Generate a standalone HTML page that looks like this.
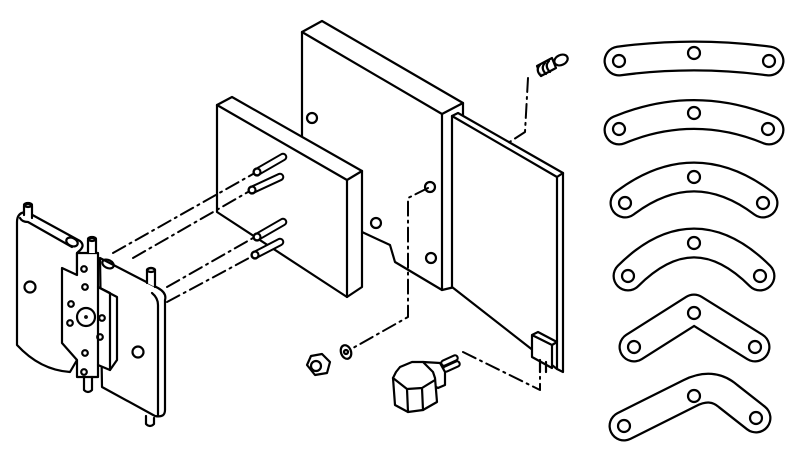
<!DOCTYPE html>
<html><head><meta charset="utf-8"><style>html,body{margin:0;padding:0;background:#fff}svg{display:block}</style></head>
<body>
<svg width="800" height="458" viewBox="0 0 800 458" xmlns="http://www.w3.org/2000/svg" fill="none" stroke="#000" stroke-width="2.2" stroke-linejoin="round" stroke-linecap="round">
<g>
<g stroke-width="31"><path d="M619,61 Q694,51 769,61"/><path d="M619,130 Q694,99 769,130"/><path d="M625,203 Q694,151 763,203"/><path d="M628,276 Q694,210 760,276"/><path d="M634,347 L694,309 L755,347"/><path d="M624,426 L690,393 Q712,382 728,396 L756,418"/></g>
<g stroke-width="26.5" stroke="#fff"><path d="M619,61 Q694,51 769,61"/><path d="M619,130 Q694,99 769,130"/><path d="M625,203 Q694,151 763,203"/><path d="M628,276 Q694,210 760,276"/><path d="M634,347 L694,309 L755,347"/><path d="M624,426 L690,393 Q712,382 728,396 L756,418"/></g>
<g><circle cx="619" cy="61" r="6"/><circle cx="694" cy="53" r="6"/><circle cx="769" cy="61" r="6"/>
<circle cx="619" cy="129" r="6"/><circle cx="694" cy="113" r="6"/><circle cx="768" cy="129" r="6"/>
<circle cx="625" cy="203" r="6"/><circle cx="694" cy="177" r="6"/><circle cx="763" cy="203" r="6"/>
<circle cx="628" cy="276" r="6"/><circle cx="694" cy="243" r="6"/><circle cx="760" cy="276" r="6"/>
<circle cx="634" cy="347" r="6"/><circle cx="694" cy="313" r="6"/><circle cx="755" cy="347" r="6"/>
<circle cx="624" cy="426" r="6"/><circle cx="694" cy="396" r="6"/><circle cx="756" cy="418" r="6"/></g>
</g>
<path d="M302,137 L302,32 L322,21 L463,103 L463,285 L442,290 L395,262 L390,245 L362,232" fill="#fff"/>
<path d="M302,32 L442,114 L463,103 M442,114 L442,290"/>
<circle cx="312" cy="118" r="5"/><circle cx="376" cy="223" r="5"/><circle cx="430" cy="187" r="5"/><circle cx="431" cy="258" r="5"/>
<path d="M452,116 L458,113 L563,173 L563,372 L557,369 L452,287 Z" fill="#fff"/>
<path d="M452,116 L557,177 L557,369 M557,177 L563,173"/>
<path d="M532,335 L538,332 L557,342 L552,345 Z M532,335 L532,357 L552,368 L552,345" fill="#fff"/>
<path d="M540,360 L540,372 M546,362 L546,372"/>
<path d="M217,105 L232,97 L362,171 L362,287 L347,297 L217,212 Z" fill="#fff"/>
<path d="M217,105 L347,180 L362,171 M347,180 L347,297"/>
<g stroke-width="8.5"><path d="M257,172 L283,157 M252,190 L280,177 M257,237 L283,222 M255,255 L280,242"/></g>
<g stroke-width="4.5" stroke="#fff"><path d="M257,172 L283,157 M252,190 L280,177 M257,237 L283,222 M255,255 L280,242"/></g>
<g><circle cx="257" cy="172" r="3.5"/><circle cx="252" cy="190" r="3.5"/><circle cx="257" cy="237" r="3.5"/><circle cx="255" cy="255" r="3.5"/></g>
<g stroke-dasharray="14,5,2,5" stroke-width="2">
<path d="M113,253 L253,174"/><path d="M133,258 L248,192"/><path d="M167,287 L253,238"/><path d="M167,302 L251,257"/>
<path d="M428,188 L408,198 L408,317 L353,348"/>
<path d="M528,78 L525,132 L508,143"/>
<path d="M463,352 L540,390 L540,362"/>
</g>
<g fill="#fff"><path d="M537,66 L552,58 L556,68 L541,76 Z"/><ellipse cx="561" cy="60" rx="7" ry="5" transform="rotate(-25 561 60)"/>
<path d="M540,65 Q535,70 541,76 M545,63 Q540,68 546,74 M549,61 Q544,66 550,72" /></g>
<ellipse cx="346" cy="352" rx="5" ry="7" transform="rotate(-20 346 352)" fill="#fff"/><circle cx="346" cy="352" r="2"/>
<path d="M307,365 L311,356 L322,354 L330,362 L327,373 L315,375 Z" fill="#fff"/><circle cx="316" cy="366" r="5"/>
<g stroke-width="7.5"><path d="M444,363 L455,358 M446,369 L457,364"/></g>
<g stroke-width="3.3" stroke="#fff"><path d="M444,363 L455,358 M446,369 L457,364"/></g>
<path d="M423,362 L440,363 L445,372 L445,385 L438,388 L430,384 Z" fill="#fff"/>
<path d="M396,372 L400,367 L412,362 L423,362 L433,372 L435,378 L437,402 L423,410 L408,412 L395,405 L393,378 Z" fill="#fff"/>
<path d="M393,378 L407,389 L422,388 L435,380 M407,389 L408,412 M422,388 L423,410"/>
<path d="M100,258 L158,288 Q167,293 165,300 L165,410 Q165,418 155,416 L102,387 Z" fill="#fff"/>
<path d="M152,293 Q158,298 158,305 L158,415"/>
<circle cx="138" cy="352" r="5.5"/><ellipse cx="108" cy="264" rx="6" ry="4" transform="rotate(25 108 264)"/>
<path d="M147,283 L147,270 Q151,266 155,270 L155,287" fill="#fff"/><ellipse cx="151" cy="270" rx="4" ry="2"/>
<path d="M146,416 L146,424 Q150,428 154,424 L154,418"/>
<path d="M17,222 Q17,212 27,212 L80,241 Q86,246 78,252 L77,253 L77,360 L70,372 Q40,370 17,345 Z" fill="#fff"/>
<path d="M20,218 Q22,222 28,222 L72,247"/>
<circle cx="30" cy="287" r="5.5"/><ellipse cx="72" cy="242" rx="6" ry="4" transform="rotate(25 72 242)"/>
<path d="M24,215 L24,206 Q28,202 32,206 L32,218" fill="#fff"/><ellipse cx="28" cy="205" rx="4" ry="2"/>
<path d="M77,253 L98,253 L98,287 L117,297 L117,360 L110,370 L98,365 L98,377 L77,377 L77,360 L62,343 L62,268 L77,275 Z" fill="#fff"/>
<path d="M98,287 L98,365 M98,287 L110,293 L110,370"/>
<path d="M88,253 L88,240 Q92,236 96,240 L96,253" fill="#fff"/><ellipse cx="92" cy="239" rx="4" ry="2"/>
<path d="M84,377 L84,390 Q88,394 92,390 L92,377"/>
<circle cx="86" cy="317" r="9"/><circle cx="86" cy="317" r="0.8"/>
<g><circle cx="84" cy="269" r="2.8"/><circle cx="85" cy="287" r="2.8"/><circle cx="71" cy="304" r="2.8"/><circle cx="70" cy="323" r="2.8"/><circle cx="102" cy="318" r="2.8"/><circle cx="100" cy="337" r="2.8"/><circle cx="85" cy="353" r="2.8"/><circle cx="84" cy="372" r="2.8"/></g>
</svg>
</body></html>
